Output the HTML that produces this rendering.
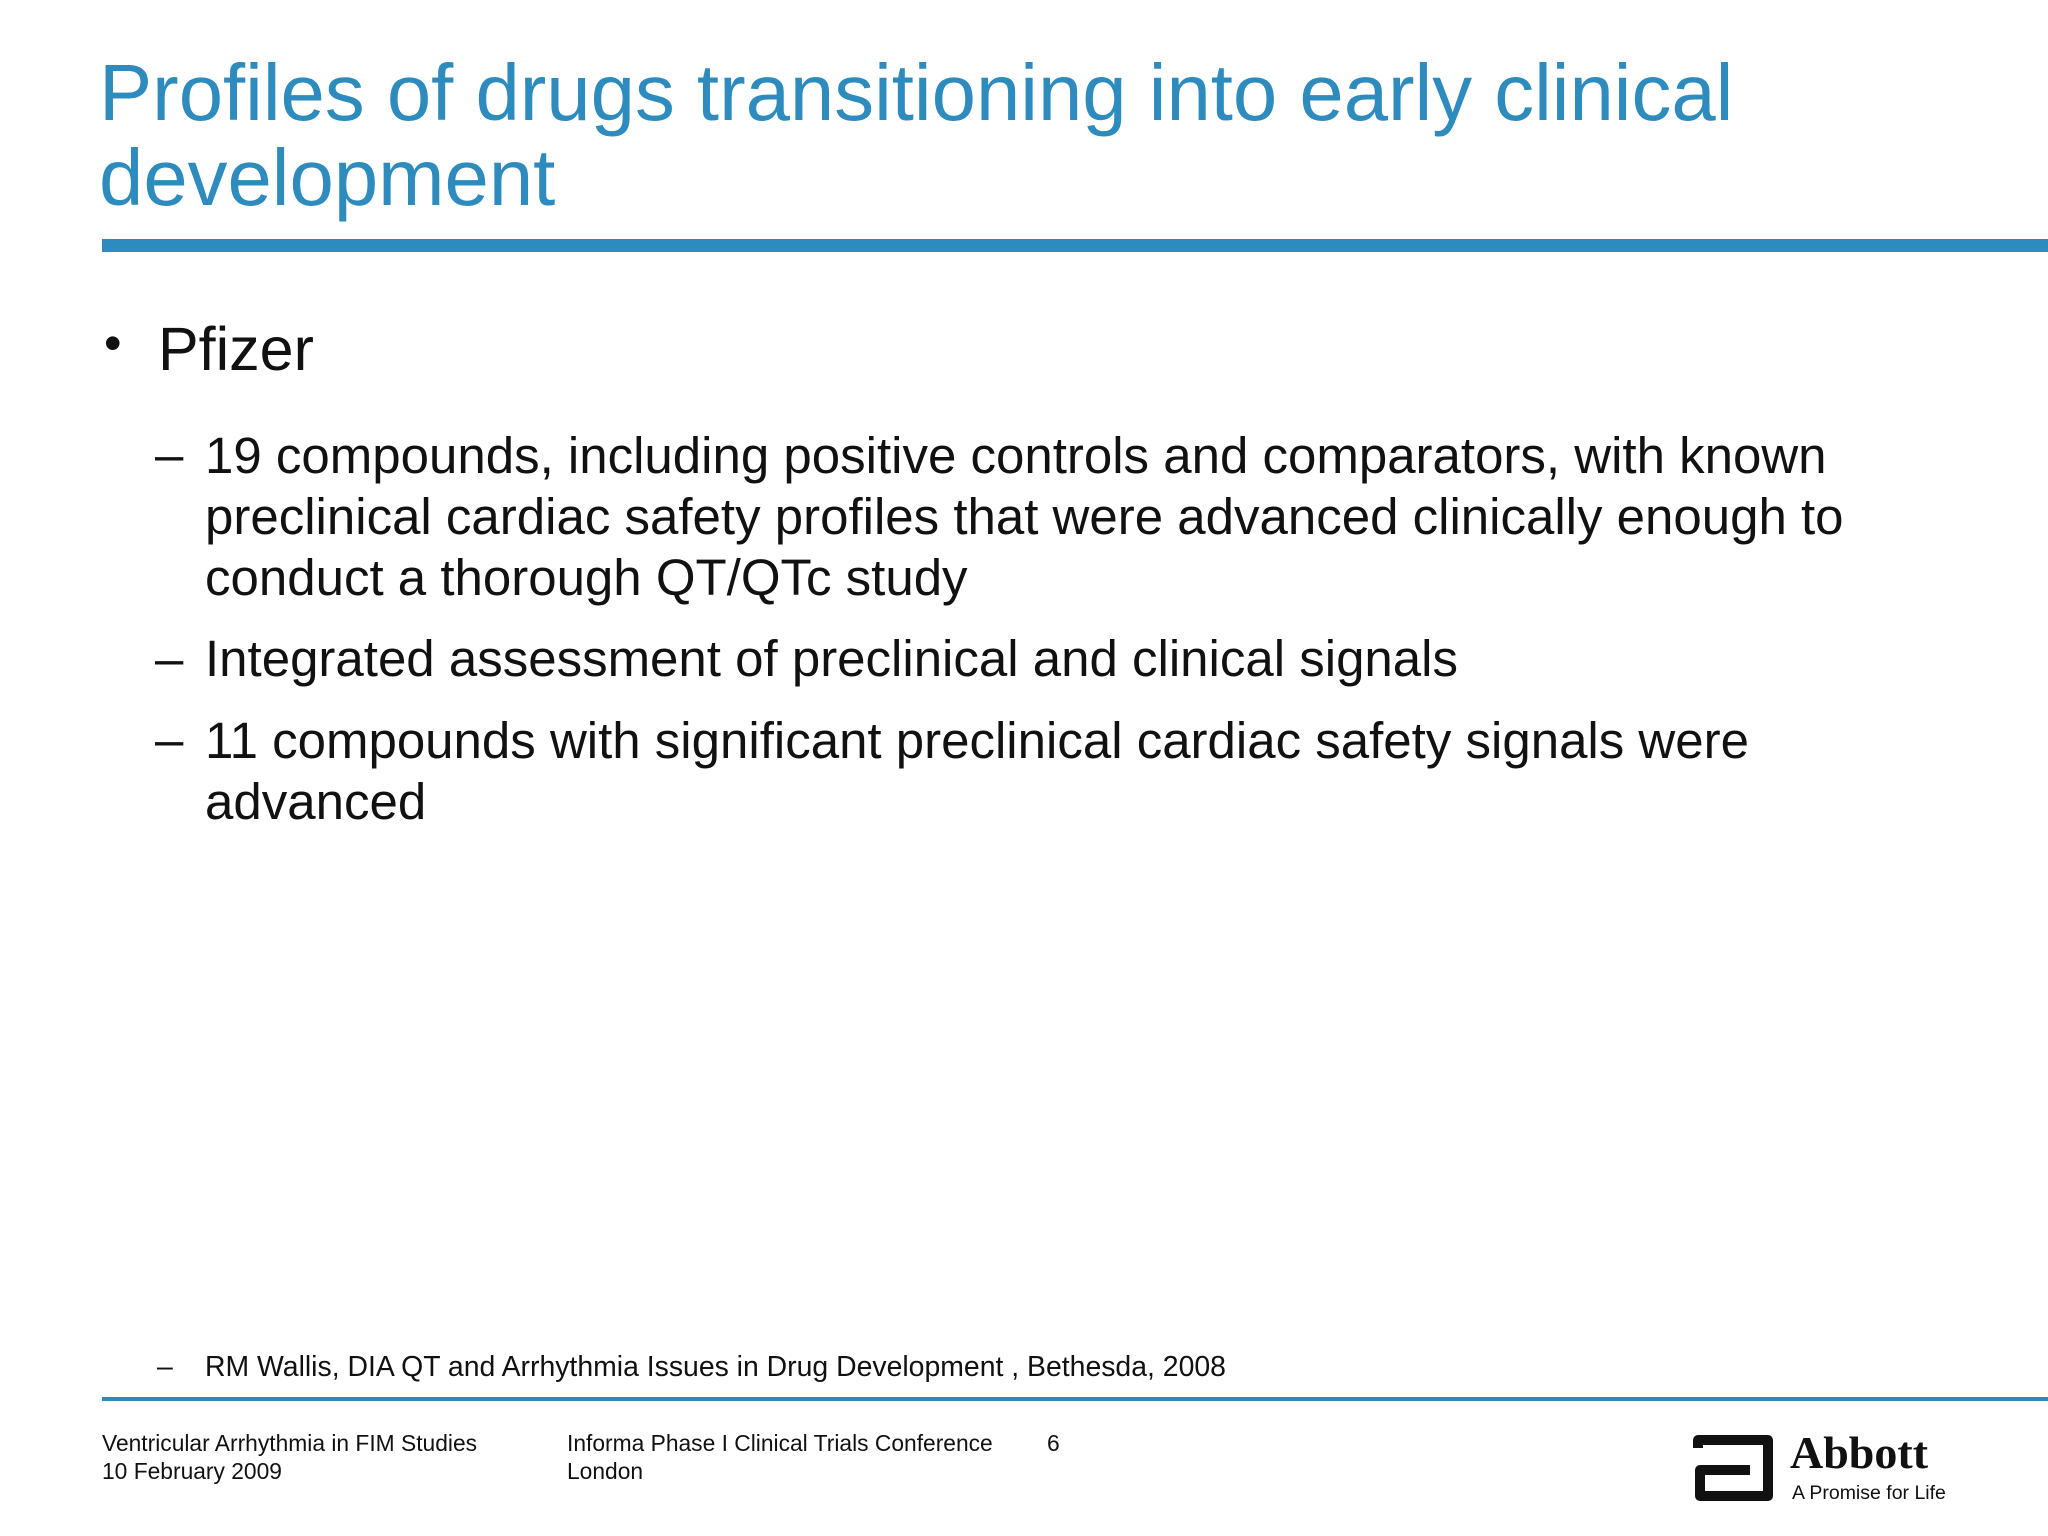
<!DOCTYPE html>
<html><head><meta charset="utf-8"><style>
body{margin:0;width:2048px;height:1536px;background:#fff;position:relative;overflow:hidden;font-family:"Liberation Sans",sans-serif;color:#111}
.a{position:absolute;white-space:nowrap}
.t{color:#2e8bbd;font-size:79.7px;left:99px;line-height:85px}
.s{font-size:51px;left:205px}
.d{font-size:51px;left:155px}
.f{font-size:22.8px;line-height:28px}
</style></head><body>
<div class="a t" style="top:50px">Profiles of drugs transitioning into early clinical<br>development</div>
<div class="a" style="left:102px;top:239px;width:1946px;height:13px;background:#2e8bbd"></div>
<div class="a" style="left:104px;top:314px;font-size:50px">•</div>
<div class="a" style="left:158px;top:314px;font-size:61px">Pfizer</div>
<div class="a d" style="top:425px">–</div>
<div class="a s" style="top:425px;line-height:61px">19 compounds, including positive controls and comparators, with known<br>preclinical cardiac safety profiles that were advanced clinically enough to<br>conduct a thorough QT/QTc study</div>
<div class="a d" style="top:629px">–</div>
<div class="a s" style="top:629px">Integrated assessment of preclinical and clinical signals</div>
<div class="a d" style="top:710px">–</div>
<div class="a s" style="top:710px;line-height:61px">11 compounds with significant preclinical cardiac safety signals were<br>advanced</div>
<div class="a" style="left:157px;top:1351px;font-size:28.4px">–</div>
<div class="a" style="left:205px;top:1351px;font-size:28.4px">RM Wallis, DIA QT and Arrhythmia Issues in Drug Development , Bethesda, 2008</div>
<div class="a" style="left:102px;top:1397px;width:1946px;height:4px;background:#2e8bbd"></div>
<div class="a f" style="left:102px;top:1429px">Ventricular Arrhythmia in FIM Studies<br>10 February 2009</div>
<div class="a f" style="left:567px;top:1429px">Informa Phase I Clinical Trials Conference<br>London</div>
<div class="a f" style="left:1047px;top:1429px">6</div>
<svg class="a" style="left:1692px;top:1434px" width="84" height="70"><path d="M6 14 V6 H76 V62 H8 V36 H58" fill="none" stroke="#111" stroke-width="10" stroke-linejoin="round"/></svg>
<div class="a" style="left:1790px;top:1426px;font-family:'Liberation Serif',serif;font-weight:bold;font-size:46px">Abbott</div>
<div class="a" style="left:1792px;top:1482px;font-size:19.5px">A Promise for Life</div>
</body></html>
